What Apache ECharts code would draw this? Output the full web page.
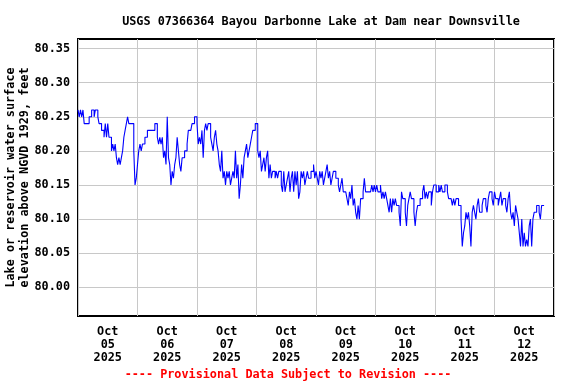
<!DOCTYPE html>
<html><head><meta charset="utf-8">
<script src="https://cdn.jsdelivr.net/npm/echarts@6/dist/echarts.min.js"></script>
<style>html,body{margin:0;padding:0;background:#fff}#c{width:576px;height:384px}</style>
</head><body><div id="c"></div>
<script>
// Gage height in hundredths of a foot above 80.00 ft, every 30 minutes, per day
const oct05 = [26,25,26,25,26,24,24,24,24,25,25,26,26,25,26,26,25,24,24,23,23,22,24,22,24,22,22,20,21,20,21,19,18,19,18,19,20,22,23,24,25,24,24,24,24,20,15,16];
const oct06 = [18,20,21,20,21,21,22,22,23,23,23,23,23,23,24,24,22,21,22,21,22,19,20,18,25,19,18,15,17,16,18,19,22,20,18,17,19,19,20,20,21,23,23,23,24,24,25,25];
const oct07 = [24,21,22,21,23,19,23,24,23,24,24,22,21,20,22,23,21,20,18,17,20,16,17,15,17,16,17,15,16,17,16,20,16,18,13,15,18,16,19,20,21,19,20,21,22,23,23,24];
const oct08 = [24,20,19,20,17,18,19,17,19,20,16,18,16,17,17,16,17,16,17,17,15,14,17,14,15,16,17,14,16,17,14,17,15,17,13,14,17,16,17,15,16,17,16,16,17,17,18,16];
const oct09 = [17,16,15,17,16,17,15,16,17,18,16,17,15,16,17,17,16,16,15,14,15,16,14,14,14,13,12,14,13,15,12,13,11,10,12,10,13,13,14,16,14,14,14,14,14,15,14,15];
const oct10 = [14,15,14,14,15,13,14,13,14,13,12,11,13,11,13,12,13,12,12,11,9,14,13,13,11,9,12,13,14,13,13,11,9,11,12,12,13,13,14,15,13,14,13,14,14,12,14,15];
const oct11 = [15,14,14,15,14,15,14,14,15,15,14,13,13,13,12,13,12,13,13,12,12,10,6,8,9,11,10,11,9,6,11,12,11,10,12,13,11,11,12,13,13,12,11,13,14,14,13,12];
const oct12 = [14,13,13,12,13,14,12,13,13,12,11,13,14,11,10,11,9,12,11,10,8,6,10,6,8,6,7,6,9,10,6,10,11,11,12,12,11,10,12,12,12];
const days = [oct05, oct06, oct07, oct08, oct09, oct10, oct11, oct12];
const dayLabels = ['Oct\n05\n2025','Oct\n06\n2025','Oct\n07\n2025','Oct\n08\n2025','Oct\n09\n2025','Oct\n10\n2025','Oct\n11\n2025','Oct\n12\n2025'];
const yTicks = [80.00, 80.05, 80.10, 80.15, 80.20, 80.25, 80.30, 80.35];

const DAY = 86400000;
const t0 = Date.UTC(2025, 9, 5);
const data = [];
days.forEach((vals, d) => vals.forEach((v, i) => data.push([t0 + d * DAY + i * 1800000, 80 + v / 100])));

const font = '"DejaVu Sans Mono", "Liberation Mono", monospace';
const chart = echarts.init(document.getElementById('c'), null, {renderer: 'canvas'});
chart.setOption({
  animation: false,
  backgroundColor: '#fff',
  title: {
    text: 'USGS 07366364 Bayou Darbonne Lake at Dam near Downsville',
    left: 316, top: 11, textAlign: 'center',
    textStyle: {fontFamily: font, fontSize: 11.8, fontWeight: 'bold', color: '#000'}
  },
  graphic: [{
    type: 'text', left: 'center', top: 369,
    style: {text: '---- Provisional Data Subject to Revision ----', fill: '#ff0000',
      font: 'bold 11.8px ' + font}
  }],
  grid: {left: 78, right: 22, top: 39, bottom: 68, outerBoundsMode: 'none', containLabel: false,
    show: true, borderColor: '#000', borderWidth: 2, backgroundColor: 'transparent'},
  xAxis: [{
    type: 'value', min: t0, max: t0 + 8 * DAY, interval: DAY,
    axisLabel: {show: false}, axisTick: {show: false}, axisLine: {show: false},
    splitLine: {show: true, lineStyle: {color: '#c8c8c8', width: 1}}
  }, {
    type: 'category', data: dayLabels, boundaryGap: true, position: 'bottom',
    axisLine: {show: false}, axisTick: {show: false}, splitLine: {show: false},
    axisLabel: {margin: 9, fontFamily: font, fontSize: 11.8, fontWeight: 'bold', color: '#000', lineHeight: 13, interval: 0}
  }],
  yAxis: {
    type: 'value', min: 79.958, max: 80.364,
    name: 'Lake or reservoir water surface\nelevation above NGVD 1929, feet',
    nameLocation: 'middle', nameGap: 46, nameRotate: 90, nameMoveOverlap: false,
    nameTextStyle: {fontFamily: font, fontSize: 11.8, fontWeight: 'bold', color: '#000', lineHeight: 14},
    axisLine: {show: false},
    axisTick: {show: false, customValues: yTicks},
    axisLabel: {customValues: yTicks, margin: 8, fontFamily: font, fontSize: 11.8, fontWeight: 'bold', color: '#000',
      formatter: v => v.toFixed(2)},
    splitLine: {show: true, lineStyle: {color: '#c8c8c8', width: 1}}
  },
  series: [{
    type: 'line', xAxisIndex: 0, data: data, step: 'end', showSymbol: false,
    lineStyle: {color: '#0000ff', width: 1.1}, z: 3
  }]
});
</script></body></html>
